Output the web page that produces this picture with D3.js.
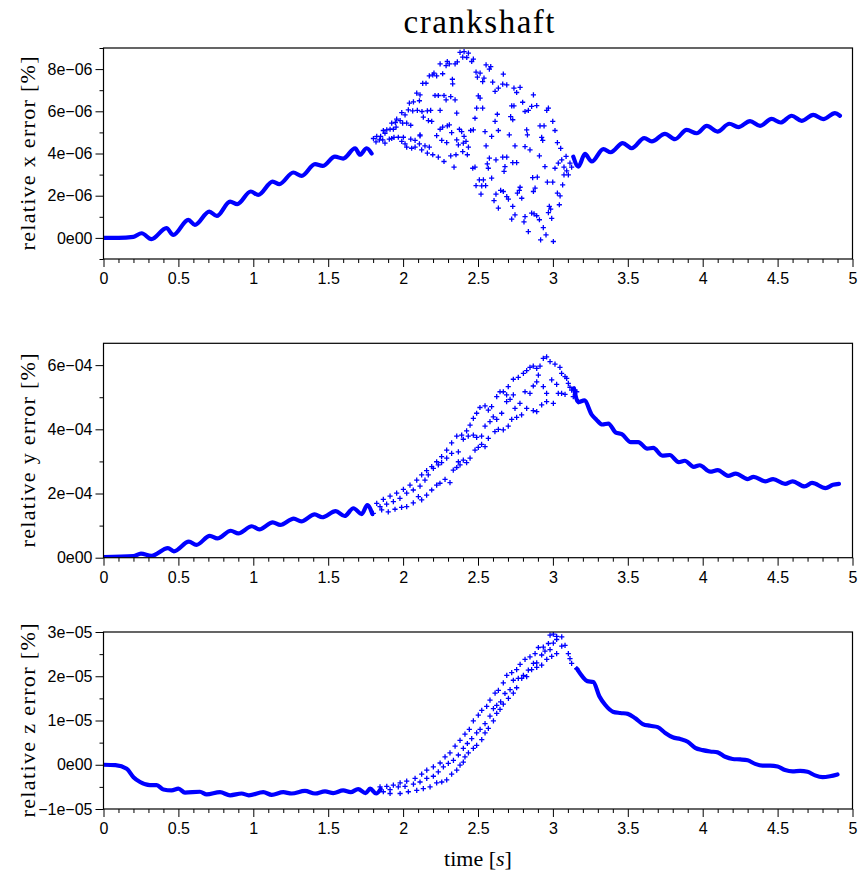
<!DOCTYPE html>
<html>
<head>
<meta charset="utf-8">
<script src="https://cdn.jsdelivr.net/npm/d3@7"></script>
<style>
  body { margin: 0; background: #fff; }
  svg { display: block; }
  .tick text { font-family: "Liberation Sans", Arial, sans-serif; font-size: 16px; fill: #000; }
  .tick line { stroke: #000; }
  .lab { font-family: "Liberation Serif", "Times New Roman", serif; fill: #000; }
</style>
</head>
<body>
<div id="chartArea"></div>
<script>
// ---- data (time in s, errors in units of 1e-6, 1e-4, 1e-5 %) ----
var titleText = "crankshaft"
var yLabels = ["relative x error [%]", "relative y error [%]", "relative z error [%]"]
var xTicks = [0, 0.5, 1, 1.5, 2, 2.5, 3, 3.5, 4, 4.5, 5]

// x error, unit 1e-06
var xLineA = [[0,0],[0.1,0.0],[0.2,0.05],[0.255,0.22],[0.32,-0.06],[0.42,0.46],[0.466,0.14],[0.566,0.85],[0.61,0.62],[0.706,1.25],[0.756,1.04],[0.845,1.72],[0.893,1.6],[0.983,2.2],[1.033,2.04],[1.129,2.67],[1.174,2.55],[1.267,3.1],[1.323,2.94],[1.412,3.5],[1.463,3.41],[1.545,3.85],[1.6,3.76],[1.68,4.25],[1.712,3.94],[1.757,4.25],[1.79,4.0]]
var xLineB = [[3.136,3.85],[3.17,3.38],[3.214,3.98],[3.259,3.62],[3.337,4.21],[3.386,4.06],[3.466,4.49],[3.526,4.25],[3.61,4.73],[3.66,4.57],[3.748,4.93],[3.815,4.68],[3.893,5.12],[3.96,4.96],[4.027,5.31],[4.098,5.04],[4.178,5.41],[4.238,5.25],[4.316,5.53],[4.383,5.31],[4.46,5.64],[4.52,5.47],[4.594,5.79],[4.66,5.55],[4.738,5.83],[4.805,5.63],[4.883,5.91],[4.916,5.79]]
var xScatter = [[2.380,8.79],[2.407,8.83],[2.436,8.76],[2.398,8.57],[2.425,8.55],[2.469,8.47],[2.458,8.36],[2.247,8.25],[2.295,8.36],[2.309,8.25],[2.287,8.16],[2.347,8.25],[2.362,8.34],[2.554,8.20],[2.585,8.12],[2.576,8.00],[2.175,7.68],[2.198,7.73],[2.224,7.68],[2.206,7.81],[2.264,7.78],[2.329,7.52],[2.331,7.30],[2.487,7.86],[2.514,7.81],[2.496,7.62],[2.540,7.57],[2.531,7.41],[2.669,7.76],[2.598,7.38],[2.131,7.32],[2.153,7.33],[2.091,6.86],[2.113,6.78],[2.109,6.50],[2.213,6.75],[2.235,6.75],[2.273,6.75],[2.287,6.54],[2.318,6.70],[2.347,6.54],[2.502,6.73],[2.514,6.62],[2.665,7.29],[2.692,7.25],[2.636,7.10],[2.614,6.94],[2.740,7.10],[2.781,7.13],[2.758,6.89],[2.870,6.78],[2.798,6.43],[2.858,6.23],[2.892,6.27],[2.836,6.04],[2.814,5.99],[2.959,6.04],[2.970,6.15],[2.914,5.31],[2.941,5.31],[2.999,5.52],[3.014,5.09],[3.030,4.52],[3.052,4.24],[2.925,4.76],[2.932,4.62],[2.042,6.39],[2.069,6.45],[2.035,6.07],[2.064,6.02],[2.095,6.04],[2.126,5.99],[2.162,6.02],[2.184,6.04],[2.135,5.72],[2.169,5.56],[2.191,5.52],[2.247,6.04],[2.358,5.91],[2.491,6.15],[2.531,6.15],[2.480,5.67],[2.629,5.86],[2.614,5.52],[2.725,6.26],[2.740,6.26],[2.718,5.75],[2.732,5.60],[1.991,5.94],[2.013,5.83],[1.957,5.63],[1.980,5.56],[1.948,5.47],[1.924,5.44],[1.935,5.15],[1.953,5.25],[1.997,5.44],[2.024,5.44],[2.051,5.34],[1.868,5.09],[1.891,5.12],[1.913,5.15],[1.879,4.96],[1.850,4.81],[1.824,4.81],[1.802,4.71],[1.819,4.55],[1.842,4.65],[1.864,4.65],[1.879,4.49],[1.908,4.68],[1.924,4.71],[1.939,4.76],[1.968,4.77],[2.002,4.77],[1.991,4.57],[2.013,4.46],[2.024,4.30],[2.057,4.25],[2.051,4.68],[2.080,4.62],[2.113,4.84],[2.109,4.46],[2.124,4.17],[2.080,4.30],[2.146,4.36],[2.175,4.30],[2.162,4.02],[2.198,3.94],[2.235,3.83],[2.113,4.88],[2.247,5.15],[2.264,5.25],[2.295,5.31],[2.309,5.36],[2.224,4.85],[2.258,4.62],[2.291,4.52],[2.324,4.99],[2.376,5.15],[2.391,5.04],[2.407,4.81],[2.420,4.57],[2.402,4.49],[2.358,4.65],[2.369,4.41],[2.398,4.09],[2.436,4.30],[2.429,3.94],[2.451,5.09],[2.469,5.12],[2.353,3.94],[2.318,3.89],[2.273,3.62],[2.340,3.35],[2.465,3.30],[2.480,3.35],[2.547,5.04],[2.591,4.81],[2.636,5.09],[2.709,4.88],[2.554,4.36],[2.747,4.36],[2.814,4.33],[2.847,4.17],[2.825,5.12],[2.830,4.88],[2.910,3.89],[2.665,3.83],[2.692,3.83],[2.620,3.70],[2.732,3.57],[2.758,3.57],[2.576,3.78],[2.562,3.51],[2.569,3.30],[2.680,3.38],[2.674,3.15],[2.591,2.83],[2.509,2.75],[2.536,2.75],[2.487,2.48],[2.525,2.47],[2.551,2.48],[2.520,2.07],[2.620,2.07],[2.607,1.77],[2.651,2.25],[2.669,2.20],[2.692,1.96],[2.703,1.84],[2.636,1.41],[2.732,1.49],[2.747,1.09],[2.725,0.89],[2.781,2.40],[2.776,2.25],[2.763,2.12],[2.792,1.88],[2.865,2.86],[2.896,2.88],[2.870,2.20],[2.881,2.36],[2.963,2.64],[2.999,2.64],[3.030,2.12],[3.048,1.99],[3.043,1.57],[2.976,1.49],[2.985,1.36],[2.970,1.20],[2.992,0.93],[2.858,1.17],[2.874,1.14],[2.892,1.05],[2.910,0.86],[2.814,1.01],[2.807,0.76],[2.836,0.30],[2.936,0.49],[2.954,0.14],[2.918,-0.09],[3.003,-0.17],[2.947,3.38],[3.014,3.30],[3.036,3.54],[3.059,3.70],[3.088,3.86],[3.114,3.54],[3.125,3.35],[3.074,3.35],[3.103,2.99],[3.074,2.99],[3.065,2.51],[3.092,3.18]]

// y error, unit 1e-04
var yLineA = [[0,0.02],[0.2,0.05],[0.25,0.13],[0.32,0.06],[0.43,0.3],[0.47,0.2],[0.57,0.5],[0.62,0.4],[0.71,0.68],[0.76,0.6],[0.85,0.84],[0.9,0.76],[0.99,0.98],[1.04,0.88],[1.13,1.1],[1.18,1.02],[1.27,1.22],[1.32,1.13],[1.41,1.35],[1.46,1.26],[1.55,1.45],[1.61,1.3],[1.668,1.54],[1.724,1.36],[1.761,1.64],[1.795,1.36]]
var yLineB = [[3.14,5.28],[3.17,4.85],[3.21,4.9],[3.26,4.45],[3.29,4.3],[3.33,4.15],[3.37,4.18],[3.42,3.9],[3.46,3.85],[3.52,3.6],[3.57,3.6],[3.63,3.4],[3.67,3.42],[3.73,3.18],[3.78,3.2],[3.84,2.98],[3.88,3.02],[3.94,2.83],[3.98,2.88],[4.05,2.68],[4.1,2.73],[4.17,2.55],[4.22,2.62],[4.3,2.45],[4.34,2.52],[4.42,2.38],[4.47,2.45],[4.55,2.3],[4.6,2.38],[4.68,2.22],[4.73,2.33],[4.82,2.17],[4.87,2.27],[4.91,2.3]]
var yScatter = [[1.824,1.69],[1.868,1.82],[1.913,1.92],[1.957,2.01],[2.002,2.13],[2.046,2.26],[2.091,2.42],[2.124,2.58],[2.157,2.71],[2.191,2.84],[2.224,2.99],[2.257,3.15],[2.291,3.35],[2.324,3.58],[2.358,3.79],[2.391,3.82],[2.424,3.95],[2.447,4.13],[2.469,4.34],[2.491,4.50],[2.513,4.68],[2.547,4.73],[2.569,4.60],[2.591,4.71],[2.625,5.02],[2.647,5.17],[2.669,5.17],[2.691,5.07],[2.702,5.33],[2.736,5.56],[2.769,5.62],[2.803,5.74],[2.825,5.83],[2.847,5.93],[2.869,5.97],[2.892,5.90],[2.914,5.97],[2.936,6.21],[2.958,6.26],[2.981,6.11],[3.014,6.03],[3.047,5.93],[3.058,5.74],[3.081,5.64],[3.103,5.43],[3.125,5.22],[3.147,5.22],[3.170,4.86],
  [1.846,1.59],[1.890,1.67],[1.935,1.75],[1.979,1.85],[2.024,2.01],[2.068,2.11],[2.113,2.23],[2.146,2.42],[2.168,2.58],[2.202,2.78],[2.235,2.89],[2.257,2.96],[2.291,3.10],[2.324,3.25],[2.369,3.30],[2.402,3.69],[2.435,3.79],[2.469,3.82],[2.491,3.75],[2.524,3.79],[2.547,4.10],[2.580,4.24],[2.602,4.39],[2.625,4.31],[2.658,4.50],[2.691,4.86],[2.714,4.93],[2.736,5.07],[2.747,4.65],[2.780,4.81],[2.814,5.17],[2.847,5.12],[2.869,5.35],[2.892,5.48],[2.903,5.69],[2.936,5.33],[2.958,5.12],[2.992,5.54],[3.025,5.40],[3.092,5.59],[3.114,5.31],[3.136,5.02],[3.159,5.17],
  [1.801,1.38],[1.857,1.49],[1.901,1.43],[1.946,1.51],[1.990,1.57],[2.024,1.59],[2.068,1.71],[2.102,1.90],[2.124,1.80],[2.157,1.95],[2.191,2.11],[2.224,2.26],[2.246,2.32],[2.280,2.44],[2.313,2.34],[2.335,2.73],[2.358,2.81],[2.380,2.89],[2.369,2.99],[2.402,3.04],[2.424,2.96],[2.447,3.10],[2.480,3.35],[2.502,3.44],[2.524,3.53],[2.547,3.46],[2.569,3.72],[2.613,3.93],[2.636,4.00],[2.669,3.98],[2.702,4.10],[2.725,4.31],[2.758,4.37],[2.791,4.45],[2.825,4.65],[2.869,4.58],[2.892,4.55],[2.925,4.76],[2.958,4.86],[3.003,4.81],[3.036,5.12],[3.058,5.12],[3.081,5.09]]

// z error, unit 1e-05
var zLineA = [[0,0],[0.08,-0.01],[0.155,-0.09],[0.2,-0.28],[0.244,-0.39],[0.31,-0.46],[0.355,-0.46],[0.4,-0.56],[0.455,-0.58],[0.5,-0.54],[0.544,-0.63],[0.644,-0.61],[0.689,-0.67],[0.778,-0.62],[0.845,-0.69],[0.922,-0.65],[0.97,-0.69],[1.067,-0.62],[1.123,-0.68],[1.2,-0.62],[1.256,-0.65],[1.345,-0.59],[1.412,-0.65],[1.479,-0.6],[1.534,-0.64],[1.6,-0.58],[1.65,-0.62],[1.7,-0.55],[1.75,-0.64],[1.78,-0.54],[1.82,-0.65],[1.85,-0.55]]
var zLineB = [[3.16,2.17],[3.2,1.98],[3.23,1.89],[3.27,1.87],[3.31,1.55],[3.35,1.35],[3.4,1.2],[3.45,1.17],[3.5,1.15],[3.55,1.05],[3.6,0.92],[3.65,0.88],[3.7,0.85],[3.75,0.72],[3.8,0.62],[3.85,0.58],[3.9,0.52],[3.95,0.38],[4.0,0.33],[4.05,0.3],[4.1,0.28],[4.15,0.18],[4.2,0.13],[4.25,0.12],[4.3,0.1],[4.35,0.02],[4.4,-0.02],[4.45,-0.02],[4.5,-0.04],[4.55,-0.12],[4.6,-0.15],[4.65,-0.14],[4.7,-0.16],[4.75,-0.24],[4.8,-0.28],[4.85,-0.26],[4.9,-0.22]]
var zScatter = [[1.846,-0.50],[1.891,-0.49],[1.935,-0.46],[1.980,-0.41],[2.024,-0.37],[2.080,-0.31],[2.124,-0.21],[2.158,-0.12],[2.202,-0.05],[2.247,0.04],[2.280,0.18],[2.313,0.27],[2.347,0.42],[2.380,0.55],[2.413,0.69],[2.442,0.80],[2.469,0.99],[2.502,1.12],[2.525,1.23],[2.558,1.32],[2.580,1.46],[2.614,1.62],[2.636,1.68],[2.669,1.85],[2.692,2.02],[2.725,2.08],[2.758,2.15],[2.781,2.27],[2.814,2.38],[2.847,2.44],[2.881,2.51],[2.903,2.65],[2.936,2.66],[2.970,2.74],[2.981,2.93],[3.003,2.95],[3.025,2.90],
  [1.868,-0.61],[1.913,-0.56],[1.968,-0.50],[2.013,-0.49],[2.069,-0.44],[2.113,-0.39],[2.158,-0.31],[2.202,-0.26],[2.235,-0.16],[2.269,-0.05],[2.302,0.03],[2.336,0.10],[2.369,0.22],[2.402,0.37],[2.429,0.48],[2.458,0.59],[2.491,0.72],[2.514,0.80],[2.547,0.93],[2.580,1.10],[2.603,1.27],[2.625,1.34],[2.651,1.42],[2.680,1.61],[2.714,1.70],[2.736,1.91],[2.769,1.95],[2.803,2.02],[2.836,2.14],[2.870,2.29],[2.892,2.30],[2.925,2.48],[2.947,2.57],[2.981,2.60],[3.003,2.75],[3.025,2.83],[3.059,2.89],
  [1.913,-0.65],[1.980,-0.65],[2.035,-0.61],[2.091,-0.58],[2.135,-0.54],[2.180,-0.50],[2.224,-0.41],[2.258,-0.39],[2.291,-0.34],[2.324,-0.21],[2.358,-0.12],[2.380,-0.01],[2.402,0.06],[2.413,0.18],[2.436,0.27],[2.469,0.37],[2.491,0.44],[2.525,0.57],[2.547,0.72],[2.569,0.82],[2.603,0.99],[2.625,1.16],[2.647,1.25],[2.669,1.37],[2.703,1.50],[2.736,1.62],[2.758,1.74],[2.792,1.95],[2.825,1.99],[2.858,2.15],[2.892,2.20],[2.925,2.25],[2.959,2.38],[2.992,2.45],[3.025,2.51],[3.059,2.68],[3.081,2.70],[3.103,2.51],[3.114,2.40],[3.125,2.29],[3.159,2.17]]

var panels = [
  { label: yLabels[0], dom: [-1, 9], rng: [259, 48], major: [0, 2, 4, 6, 8], minor: [-1, 1, 3, 5, 7, 9], exp: "06", lines: [xLineA, xLineB], pts: xScatter },
  { label: yLabels[1], dom: [0, 6.68], rng: [557.7, 343.3], major: [0, 2, 4, 6], minor: [1, 3, 5], exp: "04", lines: [yLineA, yLineB], pts: yScatter },
  { label: yLabels[2], dom: [-1, 3], rng: [809, 632], major: [-1, 0, 1, 2, 3], minor: [-0.5, 0.5, 1.5, 2.5], exp: "05", lines: [zLineA, zLineB], pts: zScatter }
]

var W = 861, H = 879
var blue = "#0000ff"

var svg = d3.select("#chartArea").append("svg")
  .attr("width", W).attr("height", H)

var x = d3.scaleLinear().domain([0, 5]).range([103.5, 852.5])
var xMinor = d3.range(0, 5.01, 0.1).map(d => Math.round(d * 10) / 10).filter(d => xTicks.indexOf(d) < 0)

function fmt(v, exp) {
  if (v == 0) return "0e00"
  return (v < 0 ? "\u2212" : "") + Math.abs(v) + "e\u2212" + exp
}

panels.forEach(function (p) {
  var y = d3.scaleLinear().domain(p.dom).range(p.rng)
  var g = svg.append("g")

  // clip
  var cid = "clip" + p.exp
  svg.append("clipPath").attr("id", cid).append("rect")
    .attr("x", x.range()[0]).attr("y", p.rng[1])
    .attr("width", x.range()[1] - x.range()[0]).attr("height", p.rng[0] - p.rng[1])

  var plot = g.append("g").attr("clip-path", "url(#" + cid + ")")

  var line = d3.line().x(d => x(d[0])).y(d => y(d[1])).curve(d3.curveMonotoneX)
  p.lines.forEach(function (ld) {
    plot.append("path")
      .attr("d", line(ld))
      .attr("fill", "none")
      .attr("stroke", blue)
      .attr("stroke-width", 4.2)
      .attr("stroke-linecap", "round")
      .attr("stroke-linejoin", "round")
  })

  plot.selectAll(".pt").data(p.pts).enter().append("path")
    .attr("class", "pt")
    .attr("transform", d => "translate(" + x(d[0]) + "," + y(d[1]) + ")")
    .attr("d", "M-2.6,0H2.6M0,-2.6V2.6")
    .attr("stroke", blue)
    .attr("stroke-width", 1.3)

  // axes
  var yAx = d3.axisLeft(y).tickValues(p.major).tickSize(8).tickSizeOuter(0).tickPadding(3)
    .tickFormat(d => fmt(d, p.exp))
  g.append("g").attr("transform", "translate(" + x.range()[0] + ",0)").call(yAx)
    .call(s => s.select(".domain").remove())
  g.append("g").attr("transform", "translate(" + x.range()[0] + ",0)")
    .call(d3.axisLeft(y).tickValues(p.minor).tickSize(4).tickSizeOuter(0).tickFormat(""))
    .call(s => s.select(".domain").remove())

  var xAx = d3.axisBottom(x).tickValues(xTicks).tickSize(8).tickSizeOuter(0).tickPadding(6)
    .tickFormat(d => d)
  g.append("g").attr("transform", "translate(0," + p.rng[0] + ")").call(xAx)
    .call(s => s.select(".domain").remove())
  g.append("g").attr("transform", "translate(0," + p.rng[0] + ")")
    .call(d3.axisBottom(x).tickValues(xMinor).tickSize(4).tickSizeOuter(0).tickFormat(""))
    .call(s => s.select(".domain").remove())

  // frame
  g.append("rect")
    .attr("x", x.range()[0]).attr("y", p.rng[1])
    .attr("width", x.range()[1] - x.range()[0]).attr("height", p.rng[0] - p.rng[1])
    .attr("fill", "none").attr("stroke", "#000").attr("stroke-width", 1.2)

  // y label
  var cy = (p.rng[0] + p.rng[1]) / 2
  svg.append("text")
    .attr("class", "lab")
    .attr("transform", "translate(35," + cy + ") rotate(-90)")
    .attr("text-anchor", "middle")
    .attr("font-size", 22)
    .attr("textLength", 194)
    .attr("lengthAdjust", "spacing")
    .text(p.label)
})

// title
svg.append("text")
  .attr("class", "lab")
  .attr("x", 479).attr("y", 33)
  .attr("text-anchor", "middle")
  .attr("font-size", 33)
  .attr("textLength", 151)
  .attr("lengthAdjust", "spacing")
  .text(titleText)

// x label
var xl = svg.append("text")
  .attr("class", "lab")
  .attr("x", 478).attr("y", 866)
  .attr("text-anchor", "middle")
  .attr("font-size", 22)
xl.append("tspan").text("time [")
xl.append("tspan").attr("font-style", "italic").text("s")
xl.append("tspan").text("]")
</script>
</body>
</html>
